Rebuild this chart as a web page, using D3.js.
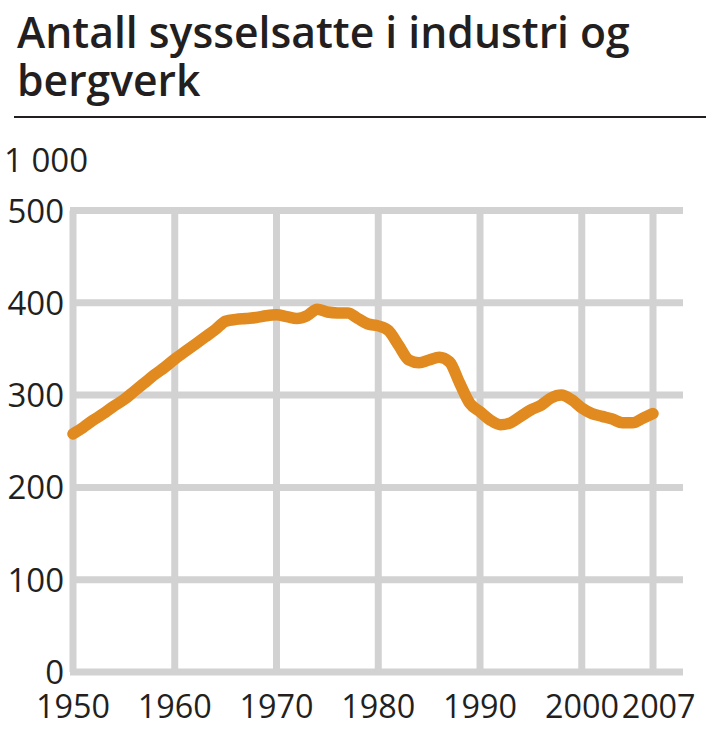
<!DOCTYPE html>
<html><head><meta charset="utf-8">
<script src="https://cdn.jsdelivr.net/npm/d3@7/dist/d3.min.js"></script>
<style>html,body{margin:0;padding:0;background:#fff;}svg{display:block;}</style>
</head><body>
<svg id="c" width="706" height="736"></svg>
<script>
const titleLines = ["Antall sysselsatte i industri og", "bergverk"];
const unitLabel = "1 000";
const years = d3.range(1950, 2008);
const employed = [258,265,273,280,288,295,304,313,322,330,339,347,355,363,371,380,382,383,384,386,387,385,383,386,393,390,389,389,383,377,375,370,354,338,335,338,341,336,313,291,282,273,268,270,277,284,289,297,300,295,286,280,277,274,270,270,275,280];
const xTicks = [1950,1960,1970,1980,1990,2000,2007];
const yTicks = [0,100,200,300,400,500];

const svg = d3.select("#c");
const font = "'Open Sans', sans-serif";
const x = d3.scaleLinear().domain([1950, 2007]).range([73, 653]);
const y = d3.scaleLinear().domain([0, 500]).range([672, 210.5]);
const gridColor = "#d2d2d2";

// title
const t = svg.append("g").attr("transform", "translate(17,0) scale(0.97,1)");
titleLines.forEach((s, i) => {
  t.append("text").attr("x", 0).attr("y", 48 + i * 48).attr("font-family", font)
    .attr("font-weight", 600).attr("font-size", 44).attr("fill", "#231f20").text(s);
});
svg.append("line").attr("x1", 14).attr("x2", 706).attr("y1", 117).attr("y2", 117)
  .attr("stroke", "#231f20").attr("stroke-width", 2);

// gridlines
svg.append("g").selectAll("line").data(yTicks).join("line")
  .attr("x1", 70).attr("x2", 683).attr("y1", d => y(d)).attr("y2", d => y(d))
  .attr("stroke", gridColor).attr("stroke-width", 7);
svg.append("g").selectAll("line").data(xTicks).join("line")
  .attr("x1", d => x(d)).attr("x2", d => x(d)).attr("y1", y(500)).attr("y2", y(0))
  .attr("stroke", gridColor).attr("stroke-width", 7);

// axis labels
svg.append("g").selectAll("text").data(yTicks).join("text")
  .attr("transform", d => `translate(64,${y(d) + 12}) scale(1,1)`)
  .attr("text-anchor", "end").attr("font-family", font).attr("font-size", 33)
  .attr("fill", "#231f20").text(d => d);
svg.append("text").attr("transform", "translate(4,172)")
  .attr("font-family", font).attr("font-size", 33).attr("fill", "#231f20").text(unitLabel);
svg.append("g").selectAll("text").data(xTicks).join("text")
  .attr("transform", d => `translate(${x(d)},718) scale(0.98,1)`)
  .attr("text-anchor", d => d === 2000 ? "end" : (d === 2007 ? "start" : "middle"))
  .attr("dx", d => d === 2000 ? 38 : (d === 2007 ? -32 : 0))
  .attr("font-family", font).attr("font-size", 33)
  .attr("fill", "#231f20").text(d => d);

// line
const line = d3.line().x((d, i) => x(years[i])).y(d => y(d)).curve(d3.curveMonotoneX);
svg.append("path").datum(employed).attr("d", line).attr("fill", "none")
  .attr("stroke", "#e08a1f").attr("stroke-width", 11.5)
  .attr("stroke-linejoin", "round").attr("stroke-linecap", "round");
</script>
</body></html>
